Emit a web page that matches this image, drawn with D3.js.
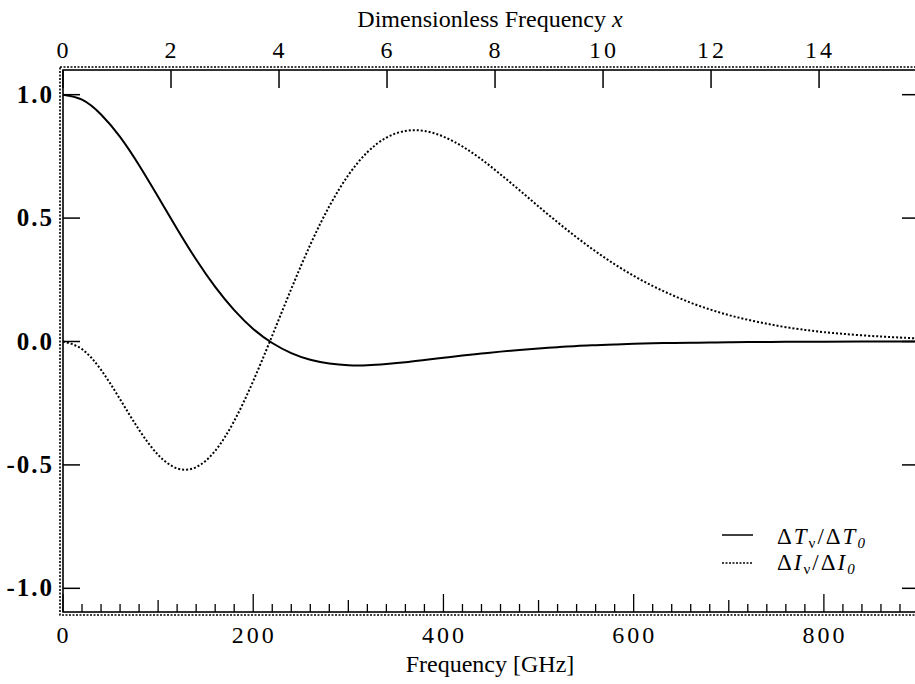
<!DOCTYPE html>
<html>
<head>
<meta charset="utf-8">
<script src="https://cdn.jsdelivr.net/npm/d3@7"></script>
<style>
  body { margin: 0; background: #fff; }
  text { font-family: "Liberation Serif", "Times New Roman", serif; fill: #000; }
</style>
</head>
<body>
<div id="chart"></div>
<script>
// Frequency samples in GHz
var freq = [0, 20, 40, 60, 80, 100, 120, 140, 160, 180, 200, 220, 240, 260, 280, 300,
    320, 340, 360, 380, 400, 420, 440, 460, 480, 500, 520, 540, 560, 580, 600,
    620, 640, 660, 680, 700, 720, 740, 760, 780, 800, 840, 880, 900];

// Delta T_nu / Delta T_0 (solid)
var deltaT = [1.000, 0.980, 0.920, 0.829, 0.714, 0.586, 0.456, 0.332, 0.221, 0.127, 0.051,
    -0.006, -0.047, -0.074, -0.089, -0.096, -0.096, -0.091, -0.084, -0.075, -0.066,
    -0.057, -0.049, -0.041, -0.034, -0.028, -0.023, -0.018, -0.015, -0.012, -0.009,
    -0.007, -0.006, -0.005, -0.004, -0.003, -0.002, -0.002, -0.001, -0.001, -0.001,
    0.000, 0.000, 0.000];

// Delta I_nu / Delta I_0 (dotted)
var deltaI = [0.000, -0.031, -0.115, -0.234, -0.358, -0.459, -0.514, -0.509, -0.443, -0.322,
    -0.160, 0.024, 0.213, 0.392, 0.548, 0.674, 0.767, 0.826, 0.853, 0.853, 0.830,
    0.790, 0.738, 0.677, 0.613, 0.547, 0.483, 0.422, 0.365, 0.313, 0.266,
    0.225, 0.189, 0.157, 0.130, 0.107, 0.088, 0.072, 0.058, 0.047, 0.038,
    0.025, 0.016, 0.012];

// Tick values
var bottomLabels = [0, 200, 400, 600, 800];
var topLabels = [0, 2, 4, 6, 8, 10, 12, 14];
var yLabels = [-1.0, -0.5, 0.0, 0.5, 1.0];

var ghzPerX = 56.78; // h nu / k T with T = 2.725 K

var w = 915;
var h = 684;
// plot box edges (right edge falls just outside the picture)
var pLeft = 63, pRight = 919, pTop = 70, pBottom = 613;

var xScale = d3.scaleLinear().domain([0, 900]).range([pLeft, pRight]);
var xDimScale = d3.scaleLinear().domain([0, 900 / ghzPerX]).range([pLeft, pRight]);
var yScale = d3.scaleLinear().domain([-1.1, 1.1]).range([pBottom, pTop]);

var svg = d3.select("#chart")
    .append("svg")
    .attr("width", w)
    .attr("height", h);

svg.append("rect").attr("width", w).attr("height", h).attr("fill", "#fff");

// Frame: solid line with a dotted line just outside it
var frame = svg.append("g");
frame.append("rect")
    .attr("x", pLeft).attr("y", pTop)
    .attr("width", pRight - pLeft).attr("height", pBottom - pTop - 1)
    .attr("fill", "none").attr("stroke", "#000").attr("stroke-width", 1.6);
frame.append("rect")
    .attr("x", pLeft - 3).attr("y", pTop - 3)
    .attr("width", pRight - pLeft + 6).attr("height", pBottom - pTop + 5)
    .attr("fill", "none").attr("stroke", "#000").attr("stroke-width", 1.6)
    .attr("stroke-dasharray", "2,1.5");

// Bottom ticks (inside, pointing up)
var bottomTicks = d3.range(0, 901, 20);
svg.append("g").selectAll("line")
    .data(bottomTicks)
    .enter()
    .append("line")
    .attr("x1", function(d) { return xScale(d); })
    .attr("x2", function(d) { return xScale(d); })
    .attr("y1", pBottom - 1)
    .attr("y2", function(d) { return pBottom - 1 - (d % 200 === 0 ? 18 : d % 100 === 0 ? 12 : 8); })
    .attr("stroke", "#000")
    .attr("stroke-width", 1.3);

svg.append("g").selectAll("text")
    .data(bottomLabels)
    .enter()
    .append("text")
    .attr("x", function(d) { return xScale(d) + 1; })
    .attr("y", 643)
    .attr("text-anchor", "middle")
    .attr("font-size", "24px")
    .attr("letter-spacing", "3px")
    .text(function(d) { return d; });

// Top ticks in dimensionless frequency
svg.append("g").selectAll("line")
    .data(topLabels)
    .enter()
    .append("line")
    .attr("x1", function(d) { return xDimScale(d); })
    .attr("x2", function(d) { return xDimScale(d); })
    .attr("y1", pTop)
    .attr("y2", pTop + 18)
    .attr("stroke", "#000")
    .attr("stroke-width", 1.5);

svg.append("g").selectAll("text")
    .data(topLabels)
    .enter()
    .append("text")
    .attr("x", function(d) { return xDimScale(d) + 1; })
    .attr("y", 58)
    .attr("text-anchor", "middle")
    .attr("font-size", "24px")
    .attr("letter-spacing", "3px")
    .text(function(d) { return d; });

// Left and right ticks
svg.append("g").selectAll("line")
    .data(yLabels)
    .enter()
    .append("line")
    .attr("x1", pLeft)
    .attr("x2", pLeft + 17)
    .attr("y1", function(d) { return yScale(d); })
    .attr("y2", function(d) { return yScale(d); })
    .attr("stroke", "#000")
    .attr("stroke-width", 1.5);

svg.append("g").selectAll("line")
    .data(yLabels)
    .enter()
    .append("line")
    .attr("x1", pRight)
    .attr("x2", pRight - 17)
    .attr("y1", function(d) { return yScale(d); })
    .attr("y2", function(d) { return yScale(d); })
    .attr("stroke", "#000")
    .attr("stroke-width", 1.5);

svg.append("g").selectAll("text")
    .data(yLabels)
    .enter()
    .append("text")
    .attr("x", 54)
    .attr("y", function(d) { return yScale(d) + 8; })
    .attr("text-anchor", "end")
    .attr("font-size", "25px")
    .attr("font-weight", "bold")
    .attr("letter-spacing", "2px")
    .text(function(d) { return d3.format(".1f")(d).replace("−", "-"); });

// Axis titles
svg.append("text")
    .attr("x", 490)
    .attr("y", 27)
    .attr("text-anchor", "middle")
    .attr("font-size", "24px")
    .html('Dimensionless Frequency <tspan font-style="italic">x</tspan>');

svg.append("text")
    .attr("x", 490)
    .attr("y", 672)
    .attr("text-anchor", "middle")
    .attr("font-size", "24px")
    .text("Frequency [GHz]");

// Curves
var points = freq.map(function(f, i) { return { f: f, t: deltaT[i], v: deltaI[i] }; });

var lineT = d3.line()
    .x(function(d) { return xScale(d.f); })
    .y(function(d) { return yScale(d.t); })
    .curve(d3.curveNatural);

var lineI = d3.line()
    .x(function(d) { return xScale(d.f); })
    .y(function(d) { return yScale(d.v); })
    .curve(d3.curveNatural);

svg.append("path")
    .datum(points)
    .attr("d", lineT)
    .attr("fill", "none")
    .attr("stroke", "#000")
    .attr("stroke-width", 2);

svg.append("path")
    .datum(points)
    .attr("d", lineI)
    .attr("fill", "none")
    .attr("stroke", "#000")
    .attr("stroke-width", 2)
    .attr("stroke-dasharray", "2,2");

// Legend
var legend = svg.append("g");
legend.append("line")
    .attr("x1", 722).attr("x2", 753).attr("y1", 535).attr("y2", 535)
    .attr("stroke", "#000").attr("stroke-width", 1.5);
legend.append("line")
    .attr("x1", 722).attr("x2", 752).attr("y1", 563).attr("y2", 563)
    .attr("stroke", "#000").attr("stroke-width", 1.5).attr("stroke-dasharray", "2,1.5");

legend.append("text")
    .attr("x", 777).attr("y", 544)
    .attr("font-size", "23px")
    .attr("letter-spacing", "2px")
    .html('Δ<tspan font-style="italic">T</tspan><tspan font-size="15px" dy="4">ν</tspan>' +
        '<tspan dy="-4">/Δ</tspan><tspan font-style="italic">T</tspan>' +
        '<tspan font-style="italic" font-size="15px" dy="4">0</tspan>');

legend.append("text")
    .attr("x", 777).attr("y", 570)
    .attr("font-size", "23px")
    .attr("letter-spacing", "2px")
    .html('Δ<tspan font-style="italic">I</tspan><tspan font-size="15px" dy="4">ν</tspan>' +
        '<tspan dy="-4">/Δ</tspan><tspan font-style="italic">I</tspan>' +
        '<tspan font-style="italic" font-size="15px" dy="4">0</tspan>');
</script>
</body>
</html>
